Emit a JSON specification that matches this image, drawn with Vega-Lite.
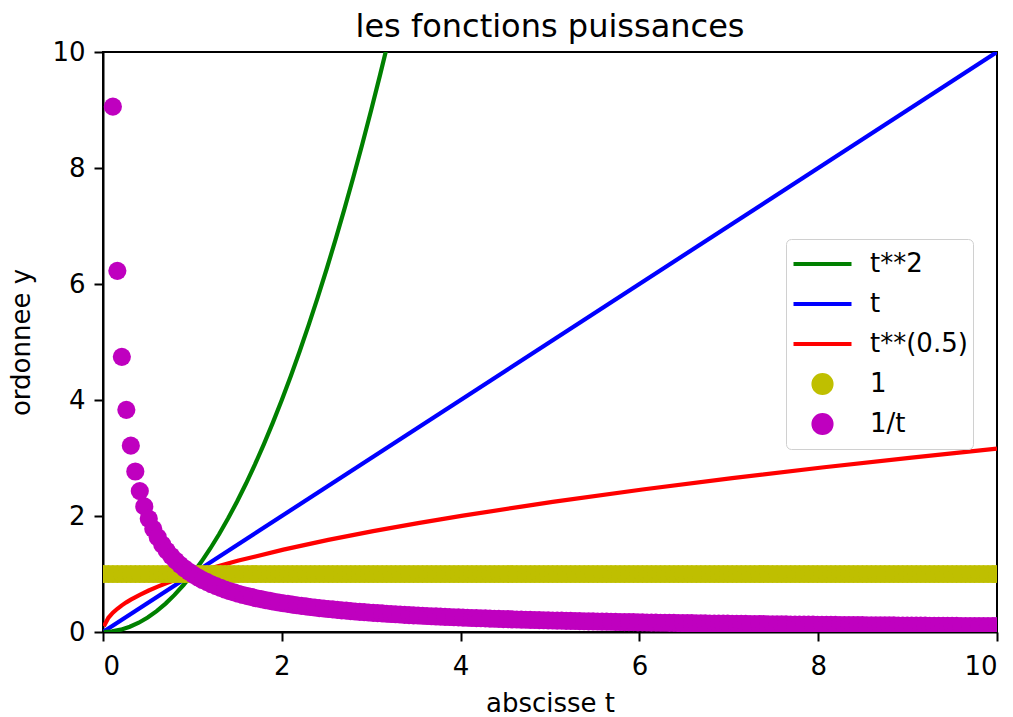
{
  "$schema": "https://vega.github.io/schema/vega-lite/v6.json",
  "autosize": "none",
  "width": 894,
  "height": 580,
  "padding": {"left": 103, "top": 52, "right": 16, "bottom": 85},
  "background": "white",
  "title": {"text": "les fonctions puissances", "fontSize": 32, "font": "DejaVu Sans", "fontWeight": "normal", "color": "black", "anchor": "middle", "baseline": "alphabetic", "offset": 1, "dy": 31},
  "config": {
    "font": "DejaVu Sans",
    "view": {"stroke": "black", "strokeWidth": 2},
    "axis": {
      "grid": false, "domainColor": "black", "domainWidth": 2, "tickColor": "black", "tickWidth": 2, "tickSize": 9,
      "labelFontSize": 26, "labelColor": "black", "labelFont": "DejaVu Sans",
      "titleFontSize": 26, "titleFontWeight": "normal", "titleColor": "black", "titleFont": "DejaVu Sans"
    }
  },
  "datasets": {
    "curves": [
      {"f": "t", "t": 0.01, "y": 0.01},
      {"f": "t", "t": 10, "y": 10},
      {"f": "t**2", "t": 0.01, "y": 0.0001},
      {"f": "t**2", "t": 0.1, "y": 0.01},
      {"f": "t**2", "t": 0.2, "y": 0.04},
      {"f": "t**2", "t": 0.3, "y": 0.09},
      {"f": "t**2", "t": 0.4, "y": 0.16},
      {"f": "t**2", "t": 0.5, "y": 0.25},
      {"f": "t**2", "t": 0.6, "y": 0.36},
      {"f": "t**2", "t": 0.7, "y": 0.49},
      {"f": "t**2", "t": 0.8, "y": 0.64},
      {"f": "t**2", "t": 0.9, "y": 0.81},
      {"f": "t**2", "t": 1.0, "y": 1.0},
      {"f": "t**2", "t": 1.1, "y": 1.21},
      {"f": "t**2", "t": 1.2, "y": 1.44},
      {"f": "t**2", "t": 1.3, "y": 1.69},
      {"f": "t**2", "t": 1.4, "y": 1.96},
      {"f": "t**2", "t": 1.5, "y": 2.25},
      {"f": "t**2", "t": 1.6, "y": 2.56},
      {"f": "t**2", "t": 1.7, "y": 2.89},
      {"f": "t**2", "t": 1.8, "y": 3.24},
      {"f": "t**2", "t": 1.9, "y": 3.61},
      {"f": "t**2", "t": 2.0, "y": 4.0},
      {"f": "t**2", "t": 2.1, "y": 4.41},
      {"f": "t**2", "t": 2.2, "y": 4.84},
      {"f": "t**2", "t": 2.3, "y": 5.29},
      {"f": "t**2", "t": 2.4, "y": 5.76},
      {"f": "t**2", "t": 2.5, "y": 6.25},
      {"f": "t**2", "t": 2.6, "y": 6.76},
      {"f": "t**2", "t": 2.7, "y": 7.29},
      {"f": "t**2", "t": 2.8, "y": 7.84},
      {"f": "t**2", "t": 2.9, "y": 8.41},
      {"f": "t**2", "t": 3.0, "y": 9.0},
      {"f": "t**2", "t": 3.1, "y": 9.61},
      {"f": "t**2", "t": 3.2, "y": 10.24},
      {"f": "t**(0.5)", "t": 0.01, "y": 0.1},
      {"f": "t**(0.5)", "t": 0.0602, "y": 0.2454},
      {"f": "t**(0.5)", "t": 0.1104, "y": 0.3323},
      {"f": "t**(0.5)", "t": 0.1606, "y": 0.4008},
      {"f": "t**(0.5)", "t": 0.2108, "y": 0.4591},
      {"f": "t**(0.5)", "t": 0.261, "y": 0.5109},
      {"f": "t**(0.5)", "t": 0.3112, "y": 0.5579},
      {"f": "t**(0.5)", "t": 0.4116, "y": 0.6416},
      {"f": "t**(0.5)", "t": 0.512, "y": 0.7155},
      {"f": "t**(0.5)", "t": 0.6124, "y": 0.7826},
      {"f": "t**(0.5)", "t": 0.7128, "y": 0.8443},
      {"f": "t**(0.5)", "t": 0.8132, "y": 0.9018},
      {"f": "t**(0.5)", "t": 1.014, "y": 1.007},
      {"f": "t**(0.5)", "t": 1.265, "y": 1.1247},
      {"f": "t**(0.5)", "t": 1.516, "y": 1.2313},
      {"f": "t**(0.5)", "t": 2.018, "y": 1.4206},
      {"f": "t**(0.5)", "t": 2.52, "y": 1.5875},
      {"f": "t**(0.5)", "t": 3.022, "y": 1.7384},
      {"f": "t**(0.5)", "t": 3.524, "y": 1.8772},
      {"f": "t**(0.5)", "t": 4.026, "y": 2.0065},
      {"f": "t**(0.5)", "t": 5.03, "y": 2.2428},
      {"f": "t**(0.5)", "t": 6.034, "y": 2.4564},
      {"f": "t**(0.5)", "t": 7.038, "y": 2.6529},
      {"f": "t**(0.5)", "t": 8.042, "y": 2.8358},
      {"f": "t**(0.5)", "t": 9.046, "y": 3.0077},
      {"f": "t**(0.5)", "t": 10, "y": 3.1623}
    ],
    "dots": [
      {"t": 0.01, "inv": 100}, {"t": 0.0602, "inv": 16.61}, {"t": 0.1104, "inv": 9.058}, {"t": 0.1606, "inv": 6.227},
      {"t": 0.2108, "inv": 4.744}, {"t": 0.261, "inv": 3.831}, {"t": 0.3112, "inv": 3.213}, {"t": 0.3614, "inv": 2.767},
      {"t": 0.4116, "inv": 2.43}, {"t": 0.4618, "inv": 2.165}, {"t": 0.512, "inv": 1.953}, {"t": 0.5622, "inv": 1.779},
      {"t": 0.6124, "inv": 1.633}, {"t": 0.6626, "inv": 1.509}, {"t": 0.7128, "inv": 1.403}, {"t": 0.763, "inv": 1.311},
      {"t": 0.8132, "inv": 1.23}, {"t": 0.8634, "inv": 1.158}, {"t": 0.9136, "inv": 1.095}, {"t": 0.9638, "inv": 1.038},
      {"t": 1.014, "inv": 0.986}, {"t": 1.0642, "inv": 0.94}, {"t": 1.1144, "inv": 0.897}, {"t": 1.1646, "inv": 0.859},
      {"t": 1.2148, "inv": 0.823}, {"t": 1.265, "inv": 0.791}, {"t": 1.3152, "inv": 0.76}, {"t": 1.3654, "inv": 0.732},
      {"t": 1.4156, "inv": 0.706}, {"t": 1.4658, "inv": 0.682}, {"t": 1.516, "inv": 0.66}, {"t": 1.5662, "inv": 0.638},
      {"t": 1.6164, "inv": 0.619}, {"t": 1.6666, "inv": 0.6}, {"t": 1.7168, "inv": 0.582}, {"t": 1.767, "inv": 0.566},
      {"t": 1.8172, "inv": 0.55}, {"t": 1.8674, "inv": 0.536}, {"t": 1.9176, "inv": 0.521}, {"t": 1.9678, "inv": 0.508},
      {"t": 2.018, "inv": 0.496}, {"t": 2.0682, "inv": 0.484}, {"t": 2.1184, "inv": 0.472}, {"t": 2.1686, "inv": 0.461},
      {"t": 2.2188, "inv": 0.451}, {"t": 2.269, "inv": 0.441}, {"t": 2.3192, "inv": 0.431}, {"t": 2.3694, "inv": 0.422},
      {"t": 2.4196, "inv": 0.413}, {"t": 2.4698, "inv": 0.405}, {"t": 2.52, "inv": 0.397}, {"t": 2.5702, "inv": 0.389},
      {"t": 2.6204, "inv": 0.382}, {"t": 2.6706, "inv": 0.374}, {"t": 2.7208, "inv": 0.368}, {"t": 2.771, "inv": 0.361},
      {"t": 2.8212, "inv": 0.354}, {"t": 2.8714, "inv": 0.348}, {"t": 2.9216, "inv": 0.342}, {"t": 2.9718, "inv": 0.336},
      {"t": 3.022, "inv": 0.331}, {"t": 3.0722, "inv": 0.326}, {"t": 3.1224, "inv": 0.32}, {"t": 3.1726, "inv": 0.315},
      {"t": 3.2228, "inv": 0.31}, {"t": 3.273, "inv": 0.306}, {"t": 3.3232, "inv": 0.301}, {"t": 3.3734, "inv": 0.296},
      {"t": 3.4236, "inv": 0.292}, {"t": 3.4738, "inv": 0.288}, {"t": 3.524, "inv": 0.284}, {"t": 3.5742, "inv": 0.28},
      {"t": 3.6244, "inv": 0.276}, {"t": 3.6746, "inv": 0.272}, {"t": 3.7248, "inv": 0.268}, {"t": 3.775, "inv": 0.265},
      {"t": 3.8252, "inv": 0.261}, {"t": 3.8754, "inv": 0.258}, {"t": 3.9256, "inv": 0.255}, {"t": 3.9758, "inv": 0.252},
      {"t": 4.026, "inv": 0.248}, {"t": 4.0762, "inv": 0.245}, {"t": 4.1264, "inv": 0.242}, {"t": 4.1766, "inv": 0.239},
      {"t": 4.2268, "inv": 0.237}, {"t": 4.277, "inv": 0.234}, {"t": 4.3272, "inv": 0.231}, {"t": 4.3774, "inv": 0.228},
      {"t": 4.4276, "inv": 0.226}, {"t": 4.4778, "inv": 0.223}, {"t": 4.528, "inv": 0.221}, {"t": 4.5782, "inv": 0.218},
      {"t": 4.6284, "inv": 0.216}, {"t": 4.6786, "inv": 0.214}, {"t": 4.7288, "inv": 0.211}, {"t": 4.779, "inv": 0.209},
      {"t": 4.8292, "inv": 0.207}, {"t": 4.8794, "inv": 0.205}, {"t": 4.9296, "inv": 0.203}, {"t": 4.9798, "inv": 0.201},
      {"t": 5.03, "inv": 0.199}, {"t": 5.0802, "inv": 0.197}, {"t": 5.1304, "inv": 0.195}, {"t": 5.1806, "inv": 0.193},
      {"t": 5.2308, "inv": 0.191}, {"t": 5.281, "inv": 0.189}, {"t": 5.3312, "inv": 0.188}, {"t": 5.3814, "inv": 0.186},
      {"t": 5.4316, "inv": 0.184}, {"t": 5.4818, "inv": 0.182}, {"t": 5.532, "inv": 0.181}, {"t": 5.5822, "inv": 0.179},
      {"t": 5.6324, "inv": 0.178}, {"t": 5.6826, "inv": 0.176}, {"t": 5.7328, "inv": 0.174}, {"t": 5.783, "inv": 0.173},
      {"t": 5.8332, "inv": 0.171}, {"t": 5.8834, "inv": 0.17}, {"t": 5.9336, "inv": 0.169}, {"t": 5.9838, "inv": 0.167},
      {"t": 6.034, "inv": 0.166}, {"t": 6.0842, "inv": 0.164}, {"t": 6.1344, "inv": 0.163}, {"t": 6.1846, "inv": 0.162},
      {"t": 6.2348, "inv": 0.16}, {"t": 6.285, "inv": 0.159}, {"t": 6.3352, "inv": 0.158}, {"t": 6.3854, "inv": 0.157},
      {"t": 6.4356, "inv": 0.155}, {"t": 6.4858, "inv": 0.154}, {"t": 6.536, "inv": 0.153}, {"t": 6.5862, "inv": 0.152},
      {"t": 6.6364, "inv": 0.151}, {"t": 6.6866, "inv": 0.15}, {"t": 6.7368, "inv": 0.148}, {"t": 6.787, "inv": 0.147},
      {"t": 6.8372, "inv": 0.146}, {"t": 6.8874, "inv": 0.145}, {"t": 6.9376, "inv": 0.144}, {"t": 6.9878, "inv": 0.143},
      {"t": 7.038, "inv": 0.142}, {"t": 7.0882, "inv": 0.141}, {"t": 7.1384, "inv": 0.14}, {"t": 7.1886, "inv": 0.139},
      {"t": 7.2388, "inv": 0.138}, {"t": 7.289, "inv": 0.137}, {"t": 7.3392, "inv": 0.136}, {"t": 7.3894, "inv": 0.135},
      {"t": 7.4396, "inv": 0.134}, {"t": 7.4898, "inv": 0.134}, {"t": 7.54, "inv": 0.133}, {"t": 7.5902, "inv": 0.132},
      {"t": 7.6404, "inv": 0.131}, {"t": 7.6906, "inv": 0.13}, {"t": 7.7408, "inv": 0.129}, {"t": 7.791, "inv": 0.128},
      {"t": 7.8412, "inv": 0.128}, {"t": 7.8914, "inv": 0.127}, {"t": 7.9416, "inv": 0.126}, {"t": 7.9918, "inv": 0.125},
      {"t": 8.042, "inv": 0.124}, {"t": 8.0922, "inv": 0.124}, {"t": 8.1424, "inv": 0.123}, {"t": 8.1926, "inv": 0.122},
      {"t": 8.2428, "inv": 0.121}, {"t": 8.293, "inv": 0.121}, {"t": 8.3432, "inv": 0.12}, {"t": 8.3934, "inv": 0.119},
      {"t": 8.4436, "inv": 0.118}, {"t": 8.4938, "inv": 0.118}, {"t": 8.544, "inv": 0.117}, {"t": 8.5942, "inv": 0.116},
      {"t": 8.6444, "inv": 0.116}, {"t": 8.6946, "inv": 0.115}, {"t": 8.7448, "inv": 0.114}, {"t": 8.795, "inv": 0.114},
      {"t": 8.8452, "inv": 0.113}, {"t": 8.8954, "inv": 0.112}, {"t": 8.9456, "inv": 0.112}, {"t": 8.9958, "inv": 0.111},
      {"t": 9.046, "inv": 0.111}, {"t": 9.0962, "inv": 0.11}, {"t": 9.1464, "inv": 0.109}, {"t": 9.1966, "inv": 0.109},
      {"t": 9.2468, "inv": 0.108}, {"t": 9.297, "inv": 0.108}, {"t": 9.3472, "inv": 0.107}, {"t": 9.3974, "inv": 0.106},
      {"t": 9.4476, "inv": 0.106}, {"t": 9.4978, "inv": 0.105}, {"t": 9.548, "inv": 0.105}, {"t": 9.5982, "inv": 0.104},
      {"t": 9.6484, "inv": 0.104}, {"t": 9.6986, "inv": 0.103}, {"t": 9.7488, "inv": 0.103}, {"t": 9.799, "inv": 0.102},
      {"t": 9.8492, "inv": 0.102}, {"t": 9.8994, "inv": 0.101}, {"t": 9.9496, "inv": 0.101}, {"t": 10.0, "inv": 0.1}
    ]
  },
  "resolve": {"scale": {"color": "shared"}},
  "layer": [
    {
      "data": {"name": "curves"},
      "mark": {"type": "line", "clip": true, "strokeWidth": 4.2},
      "encoding": {
        "x": {"field": "t", "type": "quantitative", "scale": {"domain": [0, 10], "nice": false, "zero": false},
              "axis": {"values": [0, 2, 4, 6, 8, 10], "format": "d", "title": "abscisse t", "labelPadding": 12, "titlePadding": 11}},
        "y": {"field": "y", "type": "quantitative", "scale": {"domain": [0, 10], "nice": false, "zero": false},
              "axis": {"values": [0, 2, 4, 6, 8, 10], "format": "d", "title": "ordonnee y", "labelPadding": 9, "titlePadding": 17}},
        "color": {
          "field": "f", "type": "nominal",
          "scale": {"domain": ["t**2", "t", "t**(0.5)", "1", "1/t"], "range": ["#008000", "#0000ff", "#ff0000", "#bfbf00", "#bf00bf"]},
          "legend": {
            "orient": "none", "legendX": 683, "legendY": 187, "title": null,
            "labelFontSize": 26, "labelFont": "DejaVu Sans", "labelColor": "black",
            "symbolSize": 361, "symbolStrokeWidth": 4, "symbolOffset": 0.5, "labelOffset": 16.5,
            "clipHeight": 40, "rowPadding": 0, "padding": 5,
            "strokeColor": "#d0d0d0", "fillColor": "white", "cornerRadius": 5,
            "encode": {
              "symbols": {
                "update": {
                  "shape": {"signal": "datum.value === '1' || datum.value === '1/t' ? 'circle' : 'stroke'"},
                  "size": {"signal": "datum.value === '1' || datum.value === '1/t' ? 330 : 3364"},
                  "fill": {"signal": "datum.value === '1' || datum.value === '1/t' ? scale('color', datum.value) : 'transparent'"},
                  "stroke": {"signal": "datum.value === '1' || datum.value === '1/t' ? 'transparent' : scale('color', datum.value)"},
                  "strokeWidth": {"value": 4},
                  "opacity": {"value": 1}
                }
              }
            }
          }
        }
      }
    },
    {
      "data": {"name": "dots"},
      "mark": {"type": "point", "filled": true, "size": 330, "opacity": 1, "clip": true},
      "encoding": {
        "x": {"field": "t", "type": "quantitative"},
        "y": {"datum": 1, "type": "quantitative"},
        "color": {"datum": "1", "type": "nominal"}
      }
    },
    {
      "data": {"name": "dots"},
      "mark": {"type": "point", "filled": true, "size": 330, "opacity": 1, "clip": true},
      "encoding": {
        "x": {"field": "t", "type": "quantitative"},
        "y": {"field": "inv", "type": "quantitative"},
        "color": {"datum": "1/t", "type": "nominal"}
      }
    }
  ]
}
